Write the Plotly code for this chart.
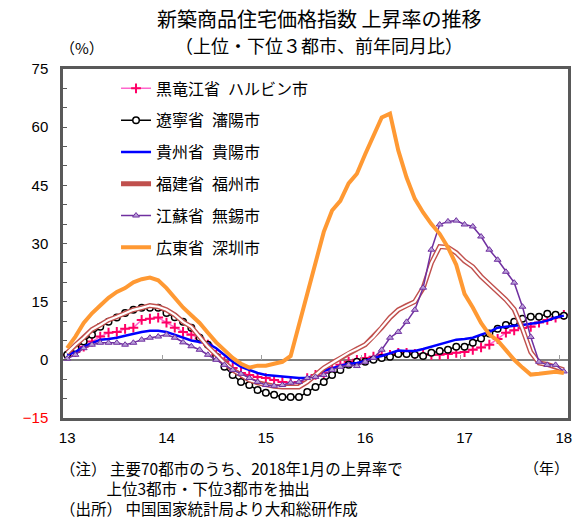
import plotly.graph_objects as go

months = list(range(61))  # Jan 2013 .. Jan 2018
year_ticks = [0, 12, 24, 36, 48, 60]
year_labels = ["13", "14", "15", "16", "17", "18"]
year_bounds = [11.5, 23.5, 35.5, 47.5, 59.5]

harbin = [1.3, 2, 3.4, 4.7, 6, 7, 7.2, 8, 8.3, 10.3, 10.6, 10.9,
          9.6, 8.3, 7.2, 6.5, 5.5, 3.9, 1.3, -0.5, -2.1, -3.4, -3.9, -4.4,
          -4.7, -5.2, -5.7, -5.9, -5.7, -4.7, -3.9, -3.4, -2.1, -1.3, -0.5, 0,
          0.5, 0.8, 1.3, 1.3, 1.8, 1.8, 1.5, 1.5, 1.3, 1.3, 1.5, 1.8,
          2, 2.6, 3.2, 3.9, 5.4, 7, 7.6, 8.2, 8.5, 9.6, 10.3, 10.9, 11.6]
shenyang = [1.3, 3, 4.7, 6.5, 8.5, 9.8, 10.9, 12.1, 12.9, 13.4, 13.4, 13.4,
            12.1, 11, 9.8, 8.3, 5.7, 3.9, 0.8, -1.8, -3.9, -5.7, -6.5, -7.8,
            -8.5, -9, -9.6, -9.6, -9.6, -8.3, -7, -5.7, -3.9, -2.6, -1.3, -0.5,
            -0.5, 0, 0.5, 0.8, 1.5, 1.5, 1.3, 1, 1.8, 2.3, 2.6, 3.4,
            3.4, 4.4, 5.5, 6.8, 8, 9, 9.8, 10.6, 11.1, 11.1, 11.9, 11.6, 11.4]
guiyang = [1.3, 2, 3.4, 4.4, 5.2, 5.4, 5.7, 6.2, 6.7, 7.2, 7.5, 7.5,
           7.2, 6.5, 5.6, 5, 4.6, 4.2, 3, 1.3, -0.5, -1.8, -2.6, -3.4,
           -3.9, -4.1, -4.4, -4.5, -4.7, -4.7, -3.9, -2.8, -2.1, -1.6, -1, -0.8,
           -0.3, 0.5, 1, 1.8, 2.4, 2.3, 2.3, 2.8, 3.4, 4.1, 4.7, 5.2,
           5.4, 5.7, 6.5, 7.2, 8.3, 8.6, 8.8, 9, 9.3, 9.6, 10.1, 10.9, 11.4]
fuzhou = [1.8, 3.9, 5.7, 7.8, 9, 10.3, 11.1, 12.1, 12.9, 13.4, 14, 13.7,
          12.9, 11.6, 9.8, 8.5, 5.9, 3.4, 1.3, -0.8, -2.6, -3.9, -5.2, -5.9,
          -6.5, -6.8, -7, -7, -7, -5.7, -3.9, -2.1, -0.8, 0.5, 1.8, 2.8,
          3.9, 5.9, 8.3, 10.9, 12.9, 14, 15, 18.5, 25, 29.2, 29, 27.6,
          25.5, 24, 21.5, 19.5, 17.5, 15.5, 13, 8, 2, -0.8, -1.2, -1.8, -2.6]
wuxi = [0.3, 1.3, 3, 3.9, 4.4, 4.4, 4.4, 3.9, 4.4, 5.2, 5.7, 6,
        6.5, 5.7, 4.5, 3.5, 2.6, 1.3, 0, -1.3, -2.6, -3.6, -4.7, -5.7,
        -6.5, -6.7, -6.5, -5.9, -5.7, -4.7, -4.4, -3.9, -2.6, -1.8, -1.3, -1.6,
        -0.5, 0.5, 2.6, 5.7, 7.2, 9.8, 12.9, 18.6, 28.4, 34.9, 35.7, 35.9,
        34.9, 34.4, 31.8, 28.4, 25.8, 22.7, 19.9, 13.7, 5.9, -0.5, -1.3, -1.3, -3]
shenzhen = [3, 6, 9.5, 12, 14, 16, 17.5, 18.5, 20, 20.8, 21.2, 20.5,
            18.5, 16, 13.5, 11.5, 9.5, 7, 4.5, 2.5, 0.5, -1, -2, -1.5,
            -1.5, -1, -0.5, 1, 9, 17, 25, 33, 38.5, 41, 45.5, 48,
            53, 57.5, 62.5, 63.5, 54, 47, 41.5, 38, 35, 32.5, 29, 24.5,
            17, 13.5, 9.5, 6.5, 5, 2.5, 0, -2, -3.8, -3.6, -3.4, -3.1, -3.4]

names = ["黒竜江省\u2002ハルビン市", "遼寧省\u2002瀋陽市", "貴州省\u2002貴陽市",
         "福建省\u2002福州市", "江蘇省\u2002無錫市", "広東省\u2002深圳市"]

y_ticks = [-15, 0, 15, 30, 45, 60, 75]
y_labels = ["<span style='color:#FF0000'>−15</span>", "0", "15", "30", "45", "60", "75"]

note_lines = ["（注） 主要70都市のうち、2018年1月の上昇率で",
              "\u3000\u3000\u3000上位3都市・下位3都市を抽出",
              "（出所） 中国国家統計局より大和総研作成"]

JP = "Noto Sans CJK JP"
NUM = "Liberation Sans"

fig = go.Figure()

fig.add_trace(go.Scatter(x=months, y=harbin, name=names[0], mode="lines+markers",
                         line=dict(color="#FF66CC", width=1.5),
                         marker=dict(symbol="cross-thin", size=7, color="#FF0066",
                                     line=dict(color="#FF0066", width=2)),
                         legendgroup="a"))
fig.add_trace(go.Scatter(x=months, y=shenyang, name=names[1], mode="lines+markers",
                         line=dict(color="#000000", width=1.5),
                         marker=dict(symbol="circle", size=6.5, color="#FFFFFF",
                                     line=dict(color="#000000", width=1.5)),
                         legendgroup="b"))
fig.add_trace(go.Scatter(x=months, y=guiyang, name=names[2], mode="lines",
                         line=dict(color="#0000FF", width=2.5),
                         legendgroup="c"))
fig.add_trace(go.Scatter(x=months, y=fuzhou, name=names[3], mode="lines",
                         line=dict(color="#C0504D", width=5),
                         legendgroup="d"))
fig.add_trace(go.Scatter(x=months, y=fuzhou, name=names[3], mode="lines",
                         line=dict(color="#FFFFFF", width=2.2),
                         legendgroup="d", showlegend=False, hoverinfo="skip"))
fig.add_trace(go.Scatter(x=months, y=wuxi, name=names[4], mode="lines+markers",
                         line=dict(color="#7030A0", width=1.5),
                         marker=dict(symbol="triangle-up", size=6, color="#B9A0D8",
                                     line=dict(color="#7030A0", width=1)),
                         legendgroup="e"))
fig.add_trace(go.Scatter(x=months, y=shenzhen, name=names[5], mode="lines",
                         line=dict(color="#FF9933", width=4),
                         legendgroup="f"))
# helper trace for the year-boundary tick axis on the zero line
fig.add_trace(go.Scatter(x=[0], y=[None], xaxis="x2", showlegend=False,
                         hoverinfo="skip", mode="lines"))

fig.update_layout(
    width=584, height=519,
    margin=dict(l=63, r=14, t=69, b=101),
    paper_bgcolor="white", plot_bgcolor="white",
    font=dict(family=JP, size=14, color="#000000"),
    showlegend=True,
    legend=dict(x=0.105, y=0.993, xanchor="left", yanchor="top",
                bgcolor="rgba(0,0,0,0)", font=dict(family=JP, size=16),
                itemwidth=30, tracegroupgap=8, traceorder="grouped"),
    xaxis=dict(range=[-0.5, 60.5], tickvals=year_ticks, ticktext=year_labels,
               showgrid=False, zeroline=False, showline=True, mirror=True,
               linecolor="#595959", linewidth=2.5, ticks="",
               ticklabelstandoff=4, tickfont=dict(family=NUM, size=15)),
    xaxis2=dict(range=[-0.5, 60.5], overlaying="x", side="top", anchor="free",
                position=15 / 90, tickvals=year_bounds, ticks="outside",
                ticklen=5, tickcolor="#A0A0A0", tickwidth=1,
                showticklabels=False, showgrid=False, zeroline=False, showline=False),
    yaxis=dict(range=[-15, 75], tickvals=y_ticks, ticktext=y_labels,
               showgrid=False, zeroline=True, zerolinecolor="#808080", zerolinewidth=1.5,
               showline=True, mirror=True, linecolor="#595959", linewidth=2.5,
               ticks="inside", ticklen=4, tickcolor="#595959",
               minor=dict(dtick=5, ticks="inside", ticklen=4, tickcolor="#595959"),
               ticklabelstandoff=9, tickfont=dict(family=NUM, size=15)),
)

annots = [
    dict(text="新築商品住宅価格指数 上昇率の推移", x=0.507, y=1.146, size=20),
    dict(text="（上位・下位３都市、前年同月比）", x=0.507, y=1.069, size=18),
]
for a in annots:
    fig.add_annotation(text=a["text"], x=a["x"], y=a["y"], xref="paper", yref="paper",
                       xanchor="center", yanchor="middle", showarrow=False,
                       font=dict(family=JP, size=a["size"]))

fig.add_annotation(text="（%）", x=-0.01, y=1.063, xref="paper", yref="paper",
                   xanchor="left", yanchor="middle", showarrow=False,
                   font=dict(family=JP, size=15))
fig.add_annotation(text="（年）", x=1.005, y=-0.143, xref="paper", yref="paper",
                   xanchor="right", yanchor="middle", showarrow=False,
                   font=dict(family=JP, size=15))
fig.add_annotation(text="<br>".join(note_lines), x=-0.01, y=-0.2006,
                   xref="paper", yref="paper", xanchor="left", yanchor="middle",
                   align="left", showarrow=False, font=dict(family=JP, size=15.5))

fig.write_html("out.html")
